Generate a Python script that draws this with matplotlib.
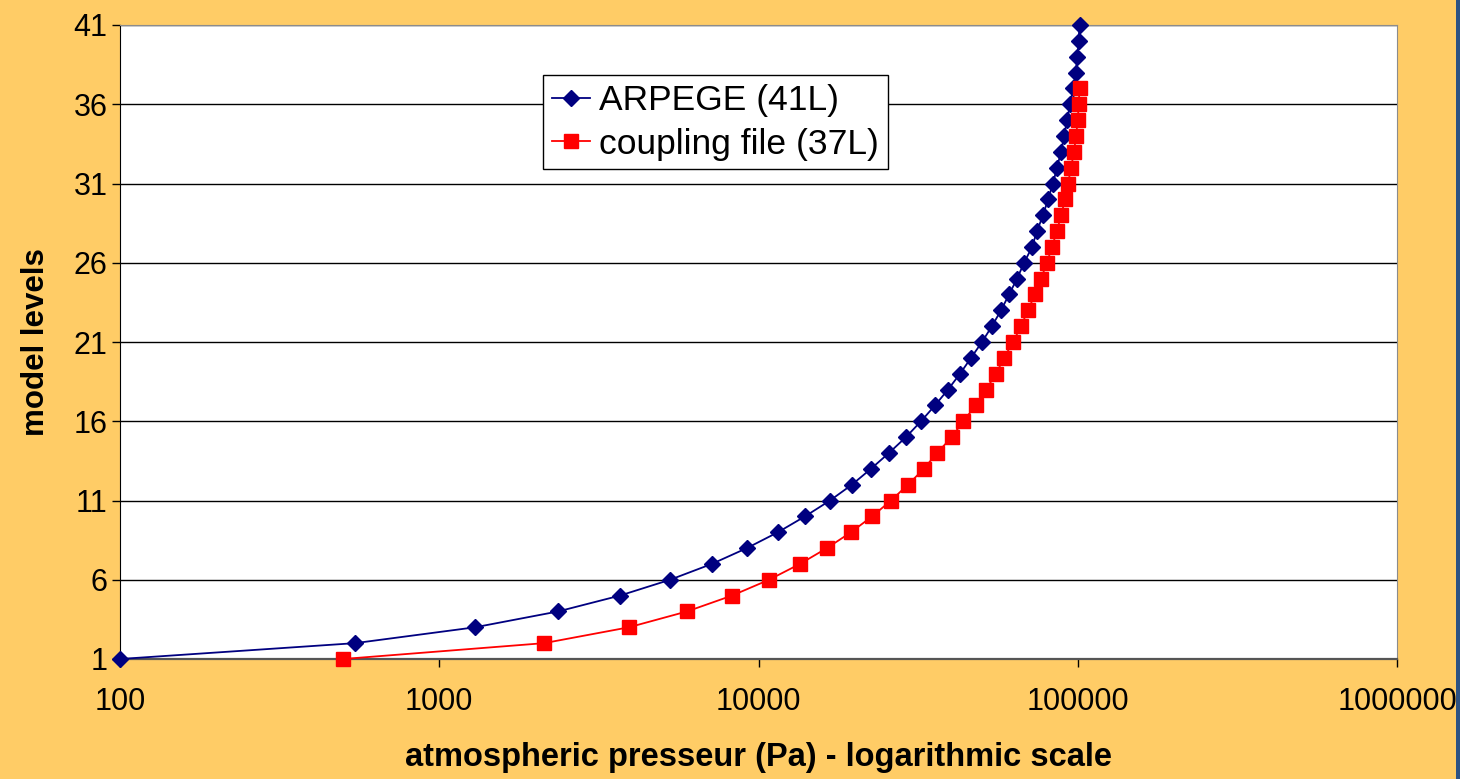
import numpy as np
import matplotlib
matplotlib.use('Agg')
import matplotlib.pyplot as plt
from matplotlib.patches import Rectangle

plt.rcParams['font.family'] = ['Liberation Sans', 'DejaVu Sans']

# pressure (Pa) of each model level
arpege_levels = list(range(1, 42))
arpege_pres = [100, 545, 1294, 2356, 3680, 5285, 7145, 9204, 11510, 13990,
               16750, 19620, 22500, 25630, 28970, 32290, 35710, 39240, 42790, 46320,
               50130, 53850, 57500, 60940, 64560, 67920, 71940, 74530, 77850, 80710,
               83650, 86080, 88660, 90600, 92600, 94600, 96700, 98500, 99800, 100600,
               101300]

coupling_levels = list(range(1, 38))
coupling_pres = [500, 2130, 3925, 5970, 8260, 10790, 13490, 16390, 19500, 22690,
                 26020, 29390, 32970, 36220, 40360, 43720, 47990, 51610, 55470, 58760,
                 62700, 66410, 69830, 73430, 76710, 80100, 83020, 86080, 88660, 91300,
                 93200, 95300, 97300, 98800, 100000, 100700, 101300]

x_ticks = [100, 1000, 10000, 100000, 1000000]
x_ticklabels = ['100', '1000', '10000', '100000', '1000000']
y_ticks = [1, 6, 11, 16, 21, 26, 31, 36, 41]

bg = '#ffcc66'

fig = plt.figure(figsize=(14.6, 7.79), dpi=100, facecolor=bg)
ax = fig.add_axes([120/1460, 120/779, 1277/1460, 634/779])
ax.set_facecolor('white')

ax.plot(arpege_pres, arpege_levels, color='#000080', lw=1.3, marker='D',
        markersize=8, markerfacecolor='#000080', markeredgecolor='#000080',
        label='ARPEGE (41L)', clip_on=False, zorder=3)
ax.plot(coupling_pres, coupling_levels, color='#ff0000', lw=1.3, marker='s',
        markersize=9.5, markerfacecolor='#ff0000', markeredgecolor='#ff0000',
        label='coupling file (37L)', clip_on=False, zorder=4)

ax.set_xscale('log')
ax.set_xlim(100, 1000000)
ax.set_ylim(1, 41)
ax.set_xticks(x_ticks)
ax.set_xticklabels(x_ticklabels)
ax.xaxis.set_minor_locator(matplotlib.ticker.NullLocator())
ax.set_yticks(y_ticks)
ax.grid(axis='y', color='black', lw=1.0)
ax.set_axisbelow(True)

ax.tick_params(axis='both', labelsize=22, length=6, width=1, direction='out', color='black')
ax.tick_params(axis='x', pad=14)
ax.tick_params(axis='y', pad=3)

ax.spines['left'].set_color('black')
ax.spines['bottom'].set_color('#555555')
ax.spines['bottom'].set_linewidth(1.6)
ax.spines['top'].set_color('#8c8c8c')
ax.spines['right'].set_color('#8c8c8c')

ax.set_xlabel('atmospheric presseur (Pa) - logarithmic scale', fontsize=23.5,
              fontweight='bold', labelpad=18)
ax.set_ylabel('model levels', fontsize=22.5, fontweight='bold', labelpad=16)

leg = ax.legend(loc='upper left', bbox_to_anchor=(0.331, 0.921), fontsize=25.5,
                frameon=True, fancybox=False, edgecolor='black', framealpha=1,
                handlelength=1.1, handletextpad=0.25, labelspacing=0.3,
                borderpad=0.25, borderaxespad=0)
leg.get_frame().set_linewidth(1.0)

# dark strip on the right edge of the slide
fig.add_artist(Rectangle((1456/1460, 0), 4/1460, 1, transform=fig.transFigure,
                         facecolor='#2c5283', edgecolor='none', zorder=10))

fig.savefig('out.png', dpi=100, facecolor=bg)
